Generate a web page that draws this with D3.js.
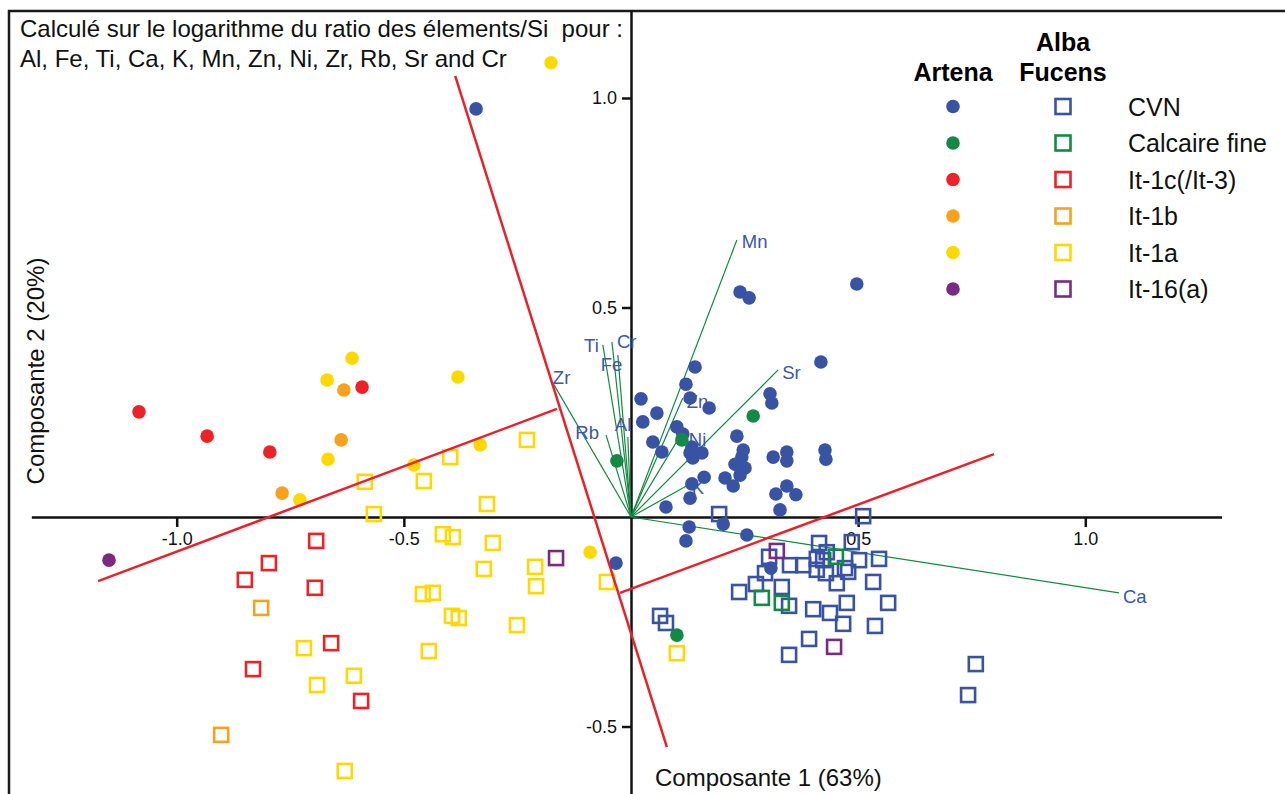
<!DOCTYPE html>
<html>
<head>
<meta charset="utf-8">
<script src="https://cdn.jsdelivr.net/npm/d3@7"></script>
<style>
  body { margin: 0; background: #fff; }
  svg { display: block; font-family: "Liberation Sans", Arial, sans-serif; }
</style>
</head>
<body>
<div id="chart"></div>
<script>
// groups, same order for both sites
const groups = ["CVN", "Calcaire fine", "It-1c(/It-3)", "It-1b", "It-1a", "It-16(a)"];
const groupColors = ["#3953a4", "#138a43", "#ed2227", "#f8a11d", "#ffd800", "#7b2a84"];

// Artena (filled circles), [comp1, comp2]
const artenaCVN = [
  [-0.341, 0.974], [0.497, 0.556], [0.240, 0.537], [0.260, 0.523], [0.418, 0.370],
  [0.141, 0.358], [0.121, 0.317], [0.022, 0.282], [0.057, 0.248], [0.130, 0.284],
  [0.172, 0.260], [0.306, 0.294], [0.310, 0.272], [0.026, 0.227], [0.101, 0.215],
  [0.114, 0.198], [0.233, 0.193], [0.048, 0.179], [0.068, 0.155], [0.134, 0.167],
  [0.130, 0.153], [0.156, 0.153], [0.136, 0.141], [0.247, 0.160], [0.244, 0.143],
  [0.313, 0.143], [0.343, 0.155], [0.343, 0.134], [0.427, 0.160], [0.429, 0.138],
  [0.229, 0.126], [0.251, 0.117], [0.240, 0.100], [0.207, 0.093], [0.225, 0.074],
  [0.161, 0.095], [0.134, 0.079], [0.130, 0.045], [0.077, 0.024], [0.343, 0.074],
  [0.319, 0.055], [0.363, 0.053], [0.328, 0.017], [0.128, -0.024], [0.121, -0.057],
  [0.203, -0.017], [0.255, -0.043], [0.308, -0.122], [-0.033, -0.110]
];
const artenaCalcaire = [[0.269, 0.241], [-0.031, 0.134], [0.112, 0.184], [0.101, -0.282]];
const artenaIt1c = [[-1.083, 0.251], [-0.933, 0.193], [-0.795, 0.155], [-0.592, 0.310]];
const artenaIt1b = [[-0.632, 0.303], [-0.638, 0.184], [-0.768, 0.057]];
const artenaIt1a = [
  [-0.176, 1.084], [-0.614, 0.379], [-0.669, 0.327], [-0.381, 0.334], [-0.667, 0.138],
  [-0.729, 0.041], [-0.478, 0.124], [-0.332, 0.172], [-0.090, -0.084]
];
const artenaIt16 = [[-1.149, -0.103]];

// Alba Fucens (open squares)
const albaCVN = [
  [0.194, 0.007], [0.511, 0.002], [0.414, -0.062], [0.486, -0.060], [0.304, -0.095],
  [0.350, -0.115], [0.379, -0.115], [0.409, -0.100], [0.409, -0.126], [0.431, -0.084],
  [0.429, -0.134], [0.471, -0.122], [0.478, -0.131], [0.502, -0.103], [0.546, -0.100],
  [0.295, -0.134], [0.275, -0.160], [0.332, -0.167], [0.453, -0.158], [0.533, -0.155],
  [0.238, -0.179], [0.348, -0.212], [0.401, -0.220], [0.438, -0.229], [0.475, -0.205],
  [0.566, -0.205], [0.467, -0.255], [0.537, -0.260], [0.392, -0.291], [0.348, -0.329],
  [0.064, -0.236], [0.077, -0.253], [0.759, -0.351], [0.742, -0.425], [0.423, -0.103]
];
const albaCalcaire = [[0.451, -0.095], [0.288, -0.193], [0.332, -0.205]];
const albaIt1c = [
  [-0.693, -0.057], [-0.797, -0.110], [-0.850, -0.150], [-0.696, -0.169],
  [-0.660, -0.301], [-0.832, -0.363], [-0.594, -0.439]
];
const albaIt1b = [[-0.814, -0.217], [-0.902, -0.520]];
const albaIt1a = [
  [-0.229, 0.184], [-0.398, 0.143], [-0.586, 0.084], [-0.456, 0.086], [-0.317, 0.031],
  [-0.566, 0.007], [-0.414, -0.041], [-0.392, -0.048], [-0.304, -0.062], [-0.324, -0.124],
  [-0.211, -0.119], [-0.209, -0.165], [-0.458, -0.184], [-0.436, -0.181], [-0.394, -0.236],
  [-0.379, -0.241], [-0.251, -0.258], [-0.053, -0.155], [-0.445, -0.320], [-0.720, -0.313],
  [-0.691, -0.401], [-0.610, -0.379], [-0.630, -0.606], [0.101, -0.325]
];
const albaIt16 = [[-0.165, -0.098], [0.321, -0.081], [0.447, -0.310]];

// loadings
const vectorNames = ["Mn", "Sr", "Ca", "Ti", "Cr", "Fe", "Zr", "Rb", "Al", "Zn", "Ni", "K"];
const vectorX = [0.233, 0.324, 1.074, -0.062, -0.042, -0.029, -0.172, -0.055, -0.007, 0.114, 0.103, 0.125];
const vectorY = [0.661, 0.351, -0.181, 0.411, 0.418, 0.387, 0.320, 0.196, 0.191, 0.284, 0.184, 0.076];

// hand drawn group boundaries
const boundaries = [
  [[-0.387, 1.053], [0.079, -0.549]],
  [[-1.173, -0.153], [-0.163, 0.258]],
  [[-0.024, -0.181], [0.799, 0.150]]
];

const xTicks = [-1.0, -0.5, 0.5, 1.0];
const yTicks = [-0.5, 0.5, 1.0];

const artena = [artenaCVN, artenaCalcaire, artenaIt1c, artenaIt1b, artenaIt1a, artenaIt16];
const alba = [albaCVN, albaCalcaire, albaIt1c, albaIt1b, albaIt1a, albaIt16];

const w = 1285, h = 794;
const ox = 631, oy = 517, kx = 454.3, ky = 419;

const x = d3.scaleLinear().domain([-1.32, 1.3]).range([ox - 1.32 * kx, ox + 1.3 * kx]);
const y = d3.scaleLinear().domain([-0.66, 1.21]).range([oy + 0.66 * ky, oy - 1.21 * ky]);

const svg = d3.select('#chart').append('svg')
  .attr('width', w)
  .attr('height', h);

svg.append('rect').attr('width', w).attr('height', h).attr('fill', '#fff');

// frame
svg.append('path')
  .attr('d', `M9,${h + 5}V11H${w + 5}`)
  .attr('fill', 'none')
  .attr('stroke', '#1a1a1a')
  .attr('stroke-width', 2.5);

// axes
const xAxis = svg.append('g')
  .attr('transform', 'translate(0,' + y(0) + ')')
  .call(d3.axisBottom(x).tickValues(xTicks).tickFormat(d => d.toFixed(1)).tickSize(10).tickPadding(5).tickSizeOuter(0));

const yAxis = svg.append('g')
  .attr('transform', 'translate(' + x(0) + ',0)')
  .call(d3.axisLeft(y).tickValues(yTicks).tickFormat(d => d.toFixed(1)).tickSize(9).tickPadding(5).tickSizeOuter(0));

[xAxis, yAxis].forEach(a => {
  a.select('.domain').attr('stroke', '#111').attr('stroke-width', 2.5);
  a.selectAll('.tick line').attr('stroke', '#111').attr('stroke-width', 2.5);
  a.selectAll('.tick text').attr('fill', '#111').style('font-size', '18px')
    .style('font-family', '"Liberation Sans", Arial, sans-serif');
});

// loading vectors
const vec = svg.append('g').attr('class', 'vectors');
vec.selectAll('line')
  .data(vectorNames)
  .enter()
  .append('line')
  .attr('x1', x(0)).attr('y1', y(0))
  .attr('x2', (d, i) => x(vectorX[i]))
  .attr('y2', (d, i) => y(vectorY[i]))
  .attr('stroke', '#138a43')
  .attr('stroke-width', 1.2);

// label placement (px offsets from the vector tip)
const labelOffset = {
  Mn: [5, 1, 'start'], Sr: [4, 3, 'start'], Ca: [4, 4, 'start'], Ti: [-4, 1, 'end'],
  Cr: [5, 0, 'start'], Fe: [-17, 10, 'start'], Zr: [0, -5, 'start'], Rb: [-7, -2, 'end'],
  Al: [-13, -12, 'start'], Zn: [4, 4, 'start'], Ni: [11, 0, 'start'], K: [4, 2, 'start']
};
vec.selectAll('text')
  .data(vectorNames)
  .enter()
  .append('text')
  .attr('x', (d, i) => x(vectorX[i]) + labelOffset[d][0])
  .attr('y', (d, i) => y(vectorY[i]) + labelOffset[d][1])
  .attr('dy', '0.35em')
  .attr('text-anchor', d => labelOffset[d][2])
  .attr('fill', '#3d56a6')
  .style('font-size', '18.5px')
  .text(d => d);

// points
const pts = svg.append('g').attr('class', 'points');
const sq = 14;
alba.forEach((arr, gi) => {
  pts.append('g').selectAll('rect')
    .data(arr)
    .enter()
    .append('rect')
    .attr('x', d => x(d[0]) - sq / 2)
    .attr('y', d => y(d[1]) - sq / 2)
    .attr('width', sq).attr('height', sq)
    .attr('fill', 'none')
    .attr('stroke', groupColors[gi])
    .attr('stroke-width', 2.6);
});
artena.forEach((arr, gi) => {
  pts.append('g').selectAll('circle')
    .data(arr)
    .enter()
    .append('circle')
    .attr('cx', d => x(d[0]))
    .attr('cy', d => y(d[1]))
    .attr('r', 6.8)
    .attr('fill', groupColors[gi]);
});

// boundaries
svg.append('g').selectAll('line')
  .data(boundaries)
  .enter()
  .append('line')
  .attr('x1', d => x(d[0][0])).attr('y1', d => y(d[0][1]))
  .attr('x2', d => x(d[1][0])).attr('y2', d => y(d[1][1]))
  .attr('stroke', '#e8212a')
  .attr('stroke-width', 2.5);

// axis titles
svg.append('text')
  .attr('x', 655).attr('y', 786)
  .style('font-size', '24px').attr('fill', '#111')
  .text('Composante 1 (63%)');

svg.append('text')
  .attr('transform', 'translate(44,371) rotate(-90)')
  .attr('text-anchor', 'middle')
  .style('font-size', '24px').attr('fill', '#111')
  .text('Composante 2 (20%)');

// note
const note = svg.append('text').attr('x', 20).style('font-size', '24px').attr('fill', '#111');
note.append('tspan').attr('x', 20).attr('y', 37).text('Calculé sur le logarithme du ratio des élements/Si\u00a0 pour :');
note.append('tspan').attr('x', 20).attr('y', 67).text('Al, Fe, Ti, Ca, K, Mn, Zn, Ni, Zr, Rb, Sr and Cr');

// legend
const leg = svg.append('g').attr('class', 'legend');
leg.append('text').attr('x', 953).attr('y', 81).attr('text-anchor', 'middle')
  .style('font-size', '25px').style('font-weight', 'bold').text('Artena');
leg.append('text').attr('x', 1063).attr('y', 51).attr('text-anchor', 'middle')
  .style('font-size', '25px').style('font-weight', 'bold').text('Alba');
leg.append('text').attr('x', 1063).attr('y', 81).attr('text-anchor', 'middle')
  .style('font-size', '25px').style('font-weight', 'bold').text('Fucens');

const rows = leg.selectAll('g.row')
  .data(groups)
  .enter()
  .append('g')
  .attr('class', 'row')
  .attr('transform', (d, i) => 'translate(0,' + (106.5 + i * 36.5) + ')');
rows.append('circle').attr('cx', 953).attr('r', 6.8).attr('fill', (d, i) => groupColors[i]);
rows.append('rect').attr('x', 1063 - 7.5).attr('y', -7.5).attr('width', 15).attr('height', 15)
  .attr('fill', 'none').attr('stroke', (d, i) => groupColors[i]).attr('stroke-width', 2.6);
rows.append('text').attr('x', 1128).attr('dy', '0.36em')
  .style('font-size', '25px').attr('fill', '#111').text(d => d);
</script>
</body>
</html>
